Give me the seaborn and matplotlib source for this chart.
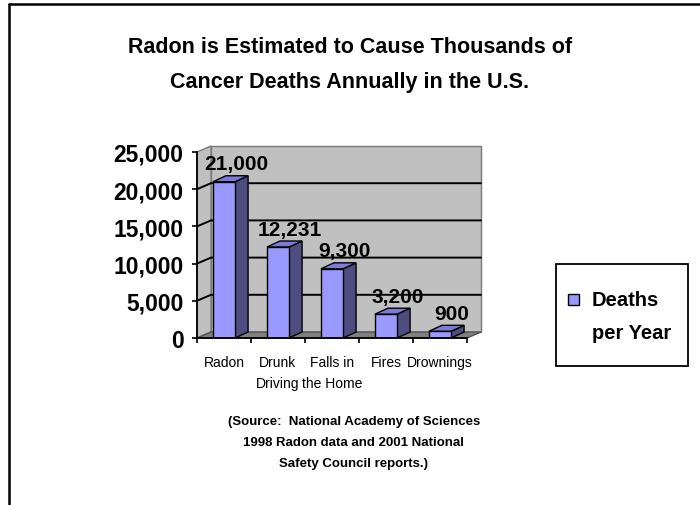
import numpy as np
import pandas as pd
import matplotlib
matplotlib.use("Agg")
import matplotlib.pyplot as plt
import seaborn as sns
from matplotlib.patches import Polygon, Rectangle
from matplotlib.lines import Line2D
from matplotlib.transforms import IdentityTransform

# ---- data -------------------------------------------------------------
categories = ["Radon", "Drunk\nDriving", "Falls in\nthe Home", "Fires", "Drownings"]
deaths = [21000, 12231, 9300, 3200, 900]
y_ticks = [0, 5000, 10000, 15000, 20000, 25000]
title_lines = ["Radon is Estimated to Cause Thousands of",
               "Cancer Deaths Annually in the U.S."]
source_lines = ["(Source:  National Academy of Sciences",
                "1998 Radon data and 2001 National",
                "Safety Council reports.)"]
legend_label = "Deaths\nper Year"

# ---- style ------------------------------------------------------------
FRONT = "#9999FF"
SIDE = "#4D4D80"
TOP = "#7C7CD8"
WALL = "#C0C0C0"
FLOOR = "#808080"

sns.set_theme(style="white")
plt.rcParams["font.family"] = ["Liberation Sans", "DejaVu Sans"]

W, H, DPI = 700, 506, 100
fig = plt.figure(figsize=(W / DPI, H / DPI), dpi=DPI)
fig.patch.set_facecolor("white")

# front plane of the 3-D plot area (pixel box converted to figure fractions)
ax = fig.add_axes([197 / W, 1 - 339 / H, 270 / W, 186 / H])
ax.patch.set_alpha(0)

df = pd.DataFrame({"cause": categories, "deaths": deaths})
sns.barplot(data=df, x="cause", y="deaths", color=FRONT, saturation=1,
            width=0.41, edgecolor="black", linewidth=1.0, ax=ax, zorder=5)

n = len(categories)
ax.set_xlim(-0.5, n - 0.5)
ax.set_ylim(y_ticks[0], y_ticks[-1])
ax.set_autoscale_on(False)
ax.set_xlabel("")
ax.set_ylabel("")

# depth of the walls and of the columns, in pixels
WALL_DX, WALL_DY = 14, 6
BAR_DX, BAR_DY = 13, 6


def pt(x, y, dx=0.0, dy=0.0):
    px, py = ax.transData.transform((x, y))
    return (px + dx, py + dy)


def poly(verts, fc, ec, lw, z):
    p = Polygon(verts, closed=True, facecolor=fc, edgecolor=ec, linewidth=lw,
                transform=IdentityTransform(), clip_on=False, zorder=z)
    ax.add_patch(p)


x0, x1 = -0.5, n - 0.5
y0, y1 = y_ticks[0], y_ticks[-1]
# back wall, side wall and floor
poly([pt(x0, y0, WALL_DX, WALL_DY), pt(x1, y0, WALL_DX, WALL_DY),
      pt(x1, y1, WALL_DX, WALL_DY), pt(x0, y1, WALL_DX, WALL_DY)],
     WALL, "#7A7A7A", 1.0, 0.5)
poly([pt(x0, y0), pt(x0, y0, WALL_DX, WALL_DY),
      pt(x0, y1, WALL_DX, WALL_DY), pt(x0, y1)],
     WALL, "#7A7A7A", 1.0, 0.6)
poly([pt(x0, y0), pt(x1, y0), pt(x1, y0, WALL_DX, WALL_DY),
      pt(x0, y0, WALL_DX, WALL_DY)],
     FLOOR, "#505050", 1.0, 0.7)

# gridlines on the walls
for t in y_ticks[1:-1]:
    a = pt(x0, t)
    b = pt(x0, t, WALL_DX, WALL_DY)
    c = pt(x1, t, WALL_DX, WALL_DY)
    ax.add_line(Line2D([a[0], b[0], c[0]], [a[1], b[1], c[1]], color="black",
                       linewidth=1.4, transform=IdentityTransform(),
                       clip_on=False, zorder=1))

# side and top faces of every column
for patch in list(ax.patches):
    if patch.get_zorder() != 5:
        continue
    bx, bw, bh = patch.get_x(), patch.get_width(), patch.get_height()
    poly([pt(bx + bw, 0), pt(bx + bw, 0, BAR_DX, BAR_DY),
          pt(bx + bw, bh, BAR_DX, BAR_DY), pt(bx + bw, bh)],
         SIDE, "black", 1.0, 4)
    poly([pt(bx, bh), pt(bx + bw, bh), pt(bx + bw, bh, BAR_DX, BAR_DY),
          pt(bx, bh, BAR_DX, BAR_DY)],
         TOP, "black", 1.0, 4)
    ax.annotate(f"{int(bh):,}", xy=(bx + bw / 2, bh), xytext=(12, 18),
                textcoords="offset pixels", ha="center", va="center",
                fontsize=15, fontweight="bold", color="black",
                annotation_clip=False, zorder=6)

# axes lines and ticks
for side in ("top", "right"):
    ax.spines[side].set_visible(False)
for side in ("left", "bottom"):
    ax.spines[side].set_visible(True)
    ax.spines[side].set_color("black")
    ax.spines[side].set_linewidth(1.3)
    ax.spines[side].set_zorder(7)

ax.set_yticks(y_ticks, labels=[f"{t:,}" for t in y_ticks])
ax.tick_params(axis="y", left=True, length=3.6, width=1.2, color="black",
               pad=6, labelsize=16.5, labelcolor="black")
for lab in ax.get_yticklabels():
    lab.set_fontweight("bold")

ax.set_xticks(np.arange(n), labels=categories)
ax.set_xticks(np.arange(n + 1) - 0.5, minor=True)
ax.tick_params(axis="x", which="major", bottom=True, length=0, pad=12,
               labelsize=10, labelcolor="black")
ax.tick_params(axis="x", which="minor", bottom=True, length=3.6, width=1.2,
               color="black")
for lab in ax.get_xticklabels():
    lab.set_linespacing(1.65)

# title and source note
for i, line in enumerate(title_lines):
    fig.text(350 / W, 1 - (53.5 + 34.5 * i) / H, line, ha="center",
             va="baseline", fontsize=15.5, fontweight="bold", color="black")
for i, line in enumerate(source_lines):
    fig.text(354 / W, 1 - (424.5 + 21.5 * i) / H, line, ha="center",
             va="baseline", fontsize=9.5, fontweight="bold", color="black")

# legend box
fig.add_artist(Rectangle((556 / W, 1 - 367 / H), 132 / W, 102 / H,
                         transform=fig.transFigure, fill=False,
                         edgecolor="black", linewidth=1.3))
fig.add_artist(Rectangle((568 / W, 1 - 305.5 / H), 11 / W, 11 / H,
                         transform=fig.transFigure, facecolor=FRONT,
                         edgecolor="black", linewidth=1.0))
fig.text(592 / W, 1 - 317 / H, legend_label, ha="left", va="center",
         fontsize=14.5, fontweight="bold", linespacing=1.95, color="black")

# outer frame of the slide
fig.add_artist(Line2D([9 / W, 1], [1 - 5 / H, 1 - 5 / H],
                      transform=fig.transFigure, color="black", linewidth=1.8))
fig.add_artist(Line2D([9 / W, 9 / W], [0, 1 - 5 / H],
                      transform=fig.transFigure, color="black", linewidth=1.8))

fig.savefig("out.png", dpi=DPI)
